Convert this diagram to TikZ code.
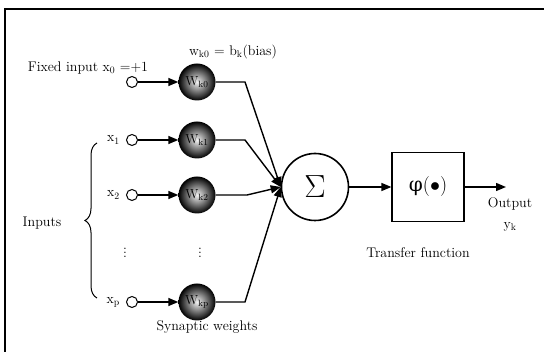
\RequirePackage{fix-cm}
\documentclass[tikz,border=0pt]{standalone}
\usepackage{fontspec}
\newfontfamily\grkfont{DejaVu Serif}
\usetikzlibrary{arrows.meta,positioning,decorations.pathreplacing}
\tikzset{
  txt/.style={font=\fontsize{14}{16}\selectfont, inner sep=0pt},
  inport/.style={draw, circle, fill=white, line width=1pt, minimum size=11pt, inner sep=0pt},
  weight/.style={circle, minimum size=37pt, inner sep=0pt, inner color=gray!10, outer color=black, font=\fontsize{13}{15}\selectfont},
  sumnode/.style={draw, circle, line width=1.6pt, minimum size=67pt, inner sep=0pt, font=\fontsize{32}{34}\selectfont},
  tfbox/.style={draw, line width=1.2pt, minimum width=72pt, minimum height=69pt, inner sep=0pt, font=\fontsize{20}{22}\selectfont},
  wire/.style={line width=1.4pt},
  arr/.style={wire, -{Triangle[length=10pt,width=8pt]}},
}
\begin{document}
\begin{tikzpicture}[x=1pt,y=-1pt]
  \useasboundingbox (0,0) rectangle (544,352);
  % frame
  \draw[line width=1.5pt] (5,352) -- (5,9) -- (544,9);
  % input terminals
  \node[inport] (x0) at (132,82) {};
  \node[inport] (x1) at (132,140) {};
  \node[inport] (x2) at (132,195) {};
  \node[inport] (xp) at (132,302) {};
  % synaptic weights
  \node[weight] (w0) at (197,82) {W\textsubscript{k0}};
  \node[weight] (w1) at (197,140) {W\textsubscript{k1}};
  \node[weight] (w2) at (197,195) {W\textsubscript{k2}};
  \node[weight] (wp) at (197,302) {W\textsubscript{kp}};
  % summing junction and transfer function
  \node[sumnode] (sum) at (315,187) {$\Sigma$};
  \node[tfbox] (phi) at (428,187) {{\grkfont φ}($\bullet$)};
  \coordinate (out) at (506,187);
  % bends
  \coordinate (b0) at (245,82);
  \coordinate (b1) at (245,140);
  \coordinate (b2) at (247,195);
  \coordinate (bp) at (245,302);
  % connectors
  \draw[arr] (x0) -- (w0);
  \draw[arr] (x1) -- (w1);
  \draw[arr] (x2) -- (w2);
  \draw[arr] (xp) -- (wp);
  \draw[arr] (w0) -- (b0) -- (sum.west);
  \draw[arr] (w1) -- (b1) -- (sum.west);
  \draw[arr] (w2) -- (b2) -- (sum.west);
  \draw[arr] (wp) -- (bp) -- (sum.west);
  \draw[arr] (sum) -- (phi);
  \draw[arr] (phi) -- (out);
  % labels
  \node[txt] (fixed) at (88,68) {Fixed input x\textsubscript{0} =+1};
  \node[txt] (bias) at (233,52) {w\textsubscript{k0} = b\textsubscript{k}(bias)};
  \node[txt, left=6pt of x1] (lx1) {x\textsubscript{1}};
  \node[txt, left=6pt of x2] (lx2) {x\textsubscript{2}};
  \node[txt, left=6pt of xp] (lxp) {x\textsubscript{p}};
  \node[txt] (vd1) at (125,250) {$\vdots$};
  \node[txt] (vd2) at (200,250) {$\vdots$};
  \node[txt] (syn) at (207,327) {Synaptic weights};
  \node[txt] (tf) at (418,253) {Transfer function};
  \node[txt] (outlbl) at (510,204) {Output};
  \node[txt] (yk) at (510,227) {y\textsubscript{k}};
  \node[txt] (inputs) at (42,223) {Inputs};
  \draw[line width=1pt, decorate, decoration={brace, amplitude=12pt}]
    (97,298) -- (97,143);
\end{tikzpicture}
\end{document}
